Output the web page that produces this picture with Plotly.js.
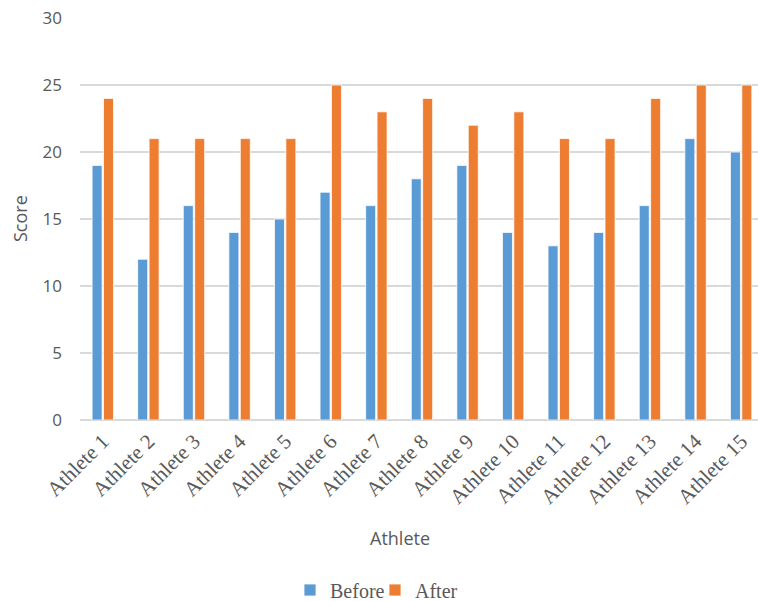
<!DOCTYPE html>
<html>
<head>
<meta charset="utf-8">
<script src="https://cdn.plot.ly/plotly-3.0.1.min.js"></script>
<style>body{margin:0;padding:0;background:#fff;}#chart{width:758px;height:601px;}</style>
</head>
<body>
<div id="chart"></div>
<script>
const athletes = ["Athlete 1","Athlete 2","Athlete 3","Athlete 4","Athlete 5","Athlete 6","Athlete 7","Athlete 8","Athlete 9","Athlete 10","Athlete 11","Athlete 12","Athlete 13","Athlete 14","Athlete 15"];
const before = [19,12,16,14,15,17,16,18,19,14,13,14,16,21,20];
const after = [24,21,21,21,21,25,23,24,22,23,21,21,24,25,25];
const yTicks = [0,5,10,15,20,25,30];

const traces = [
  {type:'bar', name:'Before', x:athletes, y:before, marker:{color:'#5B9BD5', line:{color:'#ffffff', width:0.8}}},
  {type:'bar', name:'After', x:athletes, y:after, marker:{color:'#ED7D31', line:{color:'#ffffff', width:0.8}}}
];

const layout = {
  width:758, height:601,
  margin:{l:80, r:0, t:18, b:181, autoexpand:false},
  paper_bgcolor:'#ffffff', plot_bgcolor:'#ffffff',
  barmode:'group', bargap:0.5, bargroupgap:0.12,
  showlegend:true,
  legend:{orientation:'h', x:(375-80)/678, xanchor:'center', y:-(590-420)/402, yanchor:'middle',
          font:{family:'Liberation Serif, Times New Roman, serif', size:20, color:'#595959'},
          itemwidth:30, entrywidth:40, entrywidthmode:'pixels', traceorder:'normal'},
  xaxis:{type:'category', range:[-0.5, 14.37], tickangle:-45, automargin:false,
         tickfont:{family:'Liberation Serif, Times New Roman, serif', size:21, color:'#595959'},
         showgrid:false, showline:false, ticks:'', ticklabelstandoff:4, zeroline:false, fixedrange:true},
  yaxis:{range:[0,30], tickvals:yTicks, ticktext:yTicks.map(String), automargin:false,
         tickfont:{family:'Open Sans, sans-serif', size:17, color:'#595959'},
         gridcolor:'#d9d9d9', gridwidth:1.8, zeroline:true, zerolinecolor:'#d9d9d9', zerolinewidth:1.8,
         showline:false, ticks:'', ticklabelstandoff:17, fixedrange:true},
  annotations:[
    {text:'Score', xref:'paper', yref:'paper', x:-(80-20)/678, y:0.5, xanchor:'center', yanchor:'middle',
     textangle:-90, showarrow:false, font:{family:'Open Sans, sans-serif', size:18, color:'#595959'}},
    {text:'Athlete', xref:'paper', yref:'paper', x:(400-80)/678, y:-(538-420)/402, xanchor:'center', yanchor:'middle',
     showarrow:false, font:{family:'Open Sans, sans-serif', size:18, color:'#595959'}}
  ]
};

Plotly.newPlot('chart', traces, layout, {displayModeBar:false, staticPlot:true});
</script>
</body>
</html>
